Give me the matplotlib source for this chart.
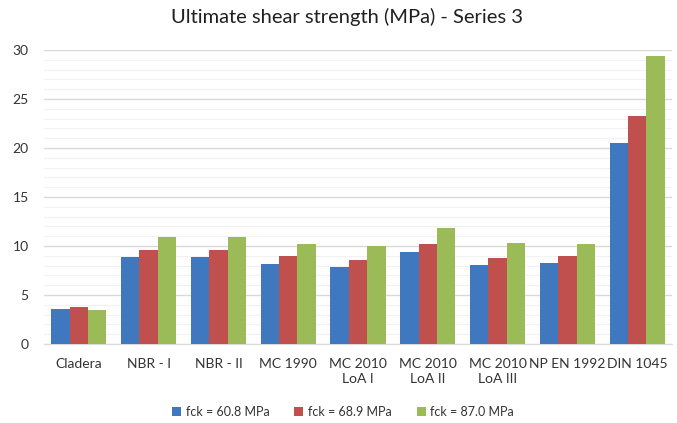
import numpy as np
import matplotlib.pyplot as plt
from matplotlib.ticker import MultipleLocator

plt.rcParams["font.family"] = ["Lato", "DejaVu Sans"]

# Datos
categorias = ["Cladera", "NBR - I", "NBR - II", "MC 1990", "MC 2010\nLoA I",
              "MC 2010\nLoA II", "MC 2010\nLoA III", "NP EN 1992", "DIN 1045"]
fck_608 = [3.6, 8.85, 8.85, 8.2, 7.9, 9.35, 8.1, 8.25, 20.5]
fck_689 = [3.8, 9.6, 9.6, 8.95, 8.6, 10.2, 8.8, 8.95, 23.3]
fck_870 = [3.5, 10.9, 10.9, 10.2, 10.0, 11.8, 10.3, 10.2, 29.4]
series = ["fck = 60.8 MPa", "fck = 68.9 MPa", "fck = 87.0 MPa"]
colores = ["#3F78BF", "#C0504D", "#9BBB59"]

fig = plt.figure(figsize=(6.77, 4.23), dpi=100)
ax = fig.add_axes([44 / 677, 1 - 344 / 423, 628 / 677, 294 / 423])

x = np.arange(len(categorias))
w = 0.263
for i, (vals, lab, col) in enumerate(zip([fck_608, fck_689, fck_870], series, colores)):
    ax.bar(x + (i - 1) * w, vals, width=w, color=col, label=lab, zorder=3)

ax.set_xlim(-0.5, len(categorias) - 0.5)
ax.set_ylim(0, 30)
ax.yaxis.set_major_locator(MultipleLocator(5))
ax.yaxis.set_minor_locator(MultipleLocator(1))
ax.grid(axis="y", which="major", color="#D9D9D9", lw=1.0, zorder=0)
ax.grid(axis="y", which="minor", color="#F1F1F1", lw=0.8, zorder=0)
ax.spines[["top", "right", "left"]].set_visible(False)
ax.spines["bottom"].set_color("#D9D9D9")
ax.tick_params(axis="both", which="both", length=0, colors="#333333", labelsize=10)
ax.tick_params(axis="y", pad=11)
ax.tick_params(axis="x", pad=10)
ax.set_xticks(x)
ax.set_xticklabels(categorias, linespacing=1.3)

fig.text(347 / 677, 1 - 17 / 423, "Ultimate shear strength (MPa) - Series 3",
         ha="center", va="center", fontsize=14.5, color="#202020")

fig.legend(loc="center", bbox_to_anchor=(343 / 677, 1 - 412 / 423), ncol=3,
           frameon=False, fontsize=9, handlelength=0.7, handleheight=0.7,
           handletextpad=0.4, columnspacing=2.0, labelcolor="#333333")

fig.savefig("out.png", dpi=100, facecolor="white")
